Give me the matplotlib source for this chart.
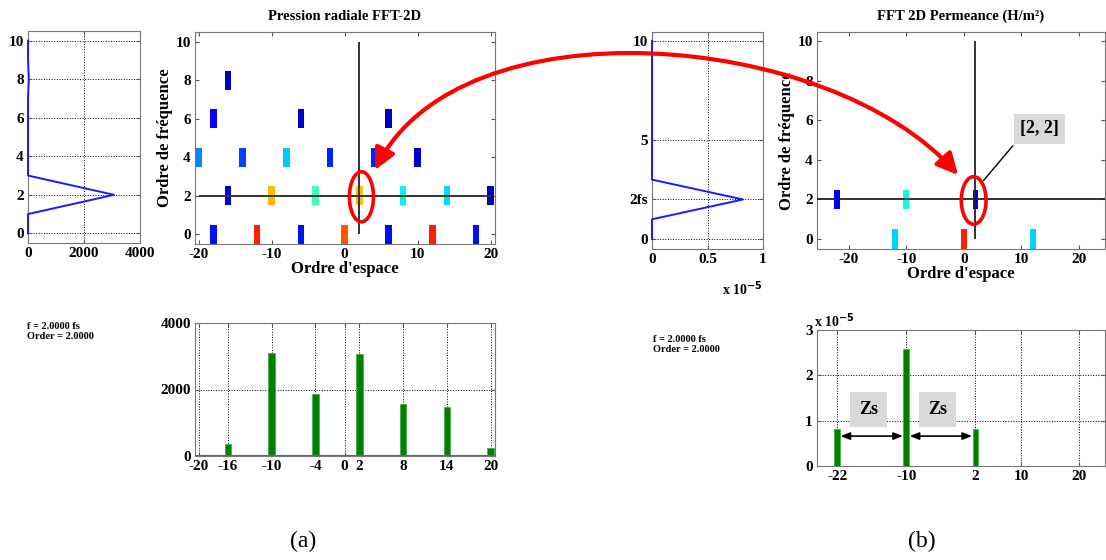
import matplotlib.pyplot as plt
import numpy as np
from matplotlib.patches import Ellipse, FancyArrowPatch
from matplotlib.path import Path
from matplotlib.colors import Normalize

plt.rcParams['font.family'] = ['Liberation Serif', 'DejaVu Serif']
plt.rcParams['font.weight'] = 'bold'
plt.rcParams['axes.labelweight'] = 'bold'
plt.rcParams['axes.titleweight'] = 'bold'
plt.rcParams['axes.unicode_minus'] = False
plt.rcParams['font.size'] = 11

# --- (a) radial pressure, 2D FFT (space order, frequency order, amplitude)
press_space = [-16, -18, -6, 6, -20, -14, -8, -2, 4, 10,
               -16, -10, -4, 2, 8, 14, 20,
               -18, -12, -6, 0, 6, 12, 18]
press_freq = [8, 6, 6, 6, 4, 4, 4, 4, 4, 4,
              2, 2, 2, 2, 2, 2, 2,
              0, 0, 0, 0, 0, 0, 0]
press_amp = [260, 540, 280, 280, 1130, 820, 1400, 700, 700, 300,
             373, 3090, 1860, 3060, 1560, 1460, 252,
             600, 3800, 600, 3560, 600, 3800, 600]
press_clim = 4340

# spectrum vs frequency order at space order 2
freq_orders = [0, 1, 2, 3, 4, 5, 6, 7, 8, 9, 10]
press_side = [0, 0, 3070, 0, 0, 0, 0, 0, 30, 0, 0]

# --- (b) permeance, 2D FFT
perm_space = [-22, -10, 2, -12, 0, 12]
perm_freq = [2, 2, 2, 0, 0, 0]
perm_amp = [0.82e-5, 2.58e-5, 0.82e-5, 2.3e-5, 6.1e-5, 2.3e-5]
perm_clim = 7e-5
perm_side = [0, 0, 0.82e-5, 0, 0, 0, 0, 0, 0, 0, 0]

W, H = 1106, 560
fig = plt.figure(figsize=(W / 100, H / 100), dpi=100)


def px_axes(x0, y0, x1, y1):
    return fig.add_axes([x0 / W, 1 - y1 / H, (x1 - x0) / W, (y1 - y0) / H])


def style(ax, grid=True):
    for s in ax.spines.values():
        s.set_color('#777777')
    ax.tick_params(direction='in', top=True, right=True, length=3,
                   labelsize=11, color='#555555', pad=3)
    if grid:
        ax.grid(True, linestyle=':', color='k', linewidth=0.7)
        ax.set_axisbelow(True)


jet = plt.cm.jet

# ---------------- (a) ----------------
ax = px_axes(28, 31, 140, 243)
ax.plot(press_side, freq_orders, color='#1a1aff', lw=1.4, clip_on=False, zorder=4)
ax.set_xlim(0, 4000)
ax.set_ylim(-0.5, 10.5)
ax.set_xticks([0, 2000, 4000])
ax.set_yticks([0, 2, 4, 6, 8, 10])
style(ax)

ax = px_axes(195, 32, 495, 244)
norm = Normalize(0, press_clim)
ax.bar(press_space, 1.0, bottom=np.array(press_freq) - 0.5, width=0.9,
       color=jet(norm(np.array(press_amp))), zorder=2)
ax.hlines(2, -20, 20, color='#333333', lw=1.4, zorder=3)
ax.vlines(2, 0, 10, color='#333333', lw=1.4, zorder=3)
ax.add_patch(Ellipse((2.3, 1.95), 3.3, 2.6, fill=False, ec='red', lw=2.6, zorder=5))
ax.set_xlim(-20.5, 20.6)
ax.set_ylim(-0.5, 10.5)
ax.set_xticks([-20, -10, 0, 10, 20])
ax.set_yticks([0, 2, 4, 6, 8, 10])
style(ax, grid=False)
ax.set_title('Pression radiale FFT-2D', fontsize=10.5, pad=9)
ax.set_xlabel("Ordre d'espace", fontsize=12, labelpad=0)
ax.set_ylabel('Ordre de fréquence', fontsize=12, labelpad=2)

ax = px_axes(195, 323, 495, 456)
sel = np.array(press_freq) == 2
sx = np.array(press_space)[sel]
sy = np.array(press_amp)[sel]
ax.bar(sx, sy, width=0.9, color='#008000', edgecolor='#4caf4c', lw=0.6, zorder=2)
ax.axhline(0, color='#2e8b2e', lw=1.5, zorder=3)
ax.set_xlim(-20.5, 20.6)
ax.set_ylim(0, 4000)
ax.set_xticks([-20, -16, -10, -4, 0, 2, 8, 14, 20])
ax.set_yticks([0, 2000, 4000])
style(ax)

fig.text(27 / W, 1 - 322 / H, 'f = 2.0000 fs\nOrder = 2.0000', fontsize=7.5,
         va='top', ha='left', linespacing=1.1)

# ---------------- (b) ----------------
ax = px_axes(652, 32, 763, 249)
ax.plot(perm_side, freq_orders, color='#1a1aff', lw=1.4, clip_on=False, zorder=4)
ax.set_xlim(0, 1e-5)
ax.set_ylim(-0.5, 10.45)
ax.set_xticks([0, 0.5e-5, 1e-5])
ax.set_xticklabels(['0', '0.5', '1'])
ax.set_yticks([0, 2, 5, 10])
ax.set_yticklabels(['0', '2fs', '5', '10'])
style(ax)
ax.text(1.0, -0.14, r'x 10$^{\mathbf{-5}}$', transform=ax.transAxes,
        ha='right', va='top', fontsize=10)

ax = px_axes(817, 32, 1105, 249)
normb = Normalize(0, perm_clim)
ax.bar(perm_space, 1.0, bottom=np.array(perm_freq) - 0.5, width=1.0,
       color=jet(normb(np.array(perm_amp))), zorder=2)
ax.hlines(2, -25.5, 24.5, color='#222222', lw=1.3, zorder=3)
ax.vlines(2, 0, 10, color='#222222', lw=1.3, zorder=3)
ax.add_patch(Ellipse((1.7, 1.95), 4.3, 2.4, fill=False, ec='red', lw=2.6, zorder=5))
ax.annotate('[2, 2]', xy=(3.1, 2.85), xytext=(13.1, 5.56), fontsize=13,
            ha='center', va='center', zorder=6,
            bbox=dict(boxstyle='square,pad=0.35', fc='#d9d9d9', ec='none'),
            arrowprops=dict(arrowstyle='-', color='k', lw=1, relpos=(0, 0)))
ax.set_xlim(-25.5, 24.5)
ax.set_ylim(-0.5, 10.45)
ax.set_xticks([-20, -10, 0, 10, 20])
ax.set_yticks([0, 2, 4, 6, 8, 10])
style(ax, grid=False)
ax.set_title('FFT 2D Permeance (H/m²)', fontsize=10.5, pad=9)
ax.set_xlabel("Ordre d'espace", fontsize=12, labelpad=0)
ax.set_ylabel('Ordre de fréquence', fontsize=12, labelpad=2)

ax = px_axes(817, 330, 1105, 466)
bsel = np.array(perm_freq) == 2
bx = np.array(perm_space)[bsel]
by = np.array(perm_amp)[bsel]
ax.bar(bx, by, width=1.0, color='#008000', edgecolor='#4caf4c', lw=0.6, zorder=2)
ax.set_xlim(-25.5, 24.5)
ax.set_ylim(0, 3e-5)
ax.set_xticks([-22, -10, 2, 10, 20])
ax.set_yticks([0, 1e-5, 2e-5, 3e-5])
ax.set_yticklabels(['0', '1', '2', '3'])
style(ax)
ax.text(-0.01, 1.0, r'x 10$^{\mathbf{-5}}$', transform=ax.transAxes,
        ha='left', va='bottom', fontsize=10)
# spacing Zs between the stator harmonics
for a, b in zip(bx[:-1], bx[1:]):
    ax.annotate('', xy=(b - 0.6, 0.66e-5), xytext=(a + 0.6, 0.66e-5),
                arrowprops=dict(arrowstyle='<|-|>,head_length=0.5,head_width=0.2',
                                color='k', lw=1.2, shrinkA=0, shrinkB=0))
    ax.text((a + b) / 2 - 0.5, 1.24e-5, 'Zs', fontsize=13, ha='center', va='center',
            bbox=dict(boxstyle='square,pad=0.5', fc='#d9d9d9', ec='none'))

fig.text(653 / W, 1 - 335 / H, 'f = 2.0000 fs\nOrder = 2.0000', fontsize=7.5,
         va='top', ha='left', linespacing=1.1)

# panel labels
fig.text(303 / W, 1 - 541 / H, '(a)', fontsize=17, fontweight='normal',
         ha='center', va='center')
fig.text(922 / W, 1 - 541 / H, '(b)', fontsize=17, fontweight='normal',
         ha='center', va='center')

# big red curved arrow linking both maps
ov = fig.add_axes([0, 0, 1, 1], zorder=10)
ov.set_xlim(0, W)
ov.set_ylim(H, 0)
ov.axis('off')
ov.patch.set_alpha(0)
arc = Path([(375, 170), (460, 0), (830, 30), (958, 175)],
           [Path.MOVETO, Path.CURVE4, Path.CURVE4, Path.CURVE4])
ov.add_patch(FancyArrowPatch(path=arc, arrowstyle='<|-|>', mutation_scale=32,
                             color='red', lw=3, transform=ov.transData))

fig.savefig('out.png', dpi=100)
